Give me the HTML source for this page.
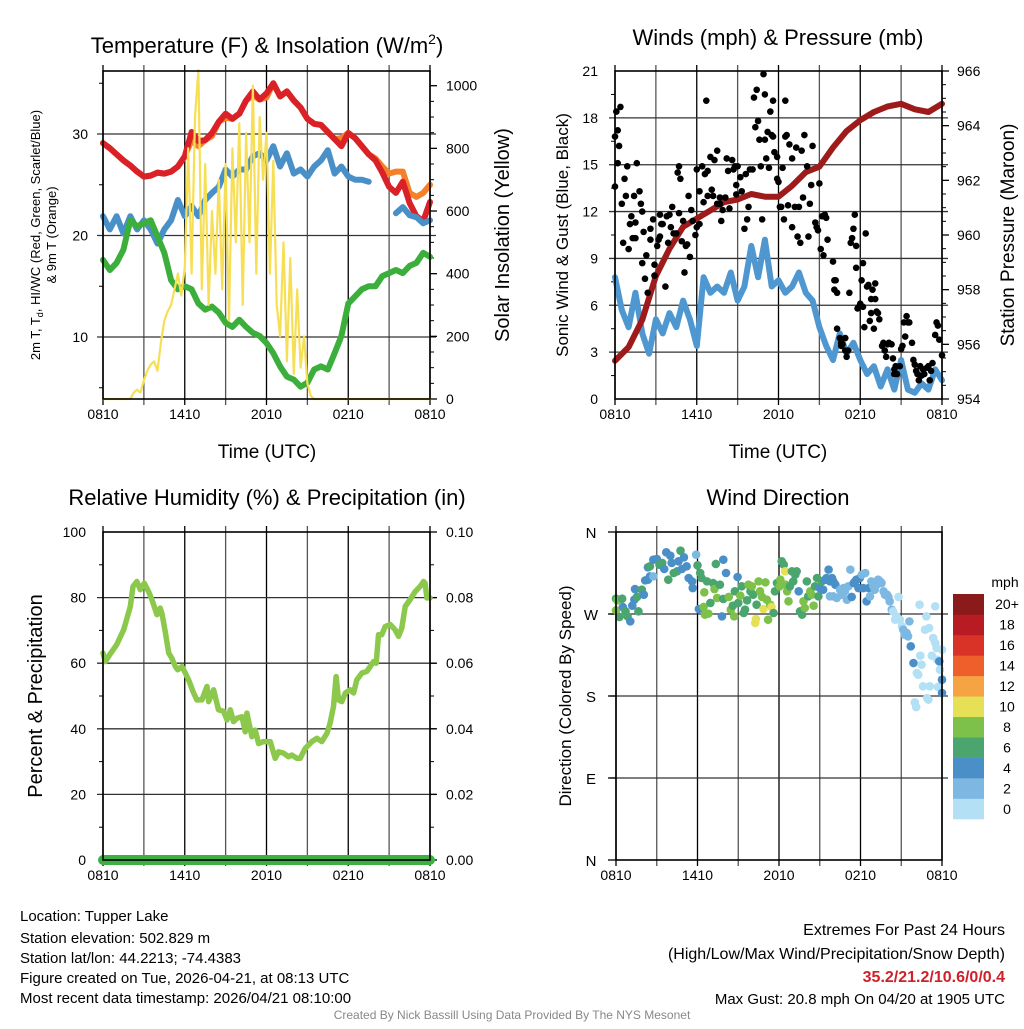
<!DOCTYPE html>
<html><head><meta charset="utf-8">
<style>
html,body{margin:0;padding:0;background:#fff;}
svg text{font-family:"Liberation Sans",Arial,sans-serif;fill:#000;}
</style></head>
<body>
<svg id="chart" width="1024" height="1024" viewBox="0 0 1024 1024" xmlns="http://www.w3.org/2000/svg">
<rect width="1024" height="1024" fill="#fff"/>
<g id="g1"></g>
<g id="g2"></g>
<g id="g3"></g>
<g id="g4"></g>

<text x="267" y="53" font-size="22" text-anchor="middle">Temperature (F) &amp; Insolation (W/m<tspan font-size="14" dy="-9">2</tspan><tspan dy="9">)</tspan></text>
<text x="778" y="45" font-size="22" text-anchor="middle">Winds (mph) &amp; Pressure (mb)</text>
<text x="267" y="505" font-size="22" text-anchor="middle">Relative Humidity (%) &amp; Precipitation (in)</text>
<text x="778" y="505" font-size="22" text-anchor="middle">Wind Direction</text>

<text x="267" y="458" font-size="19" text-anchor="middle">Time (UTC)</text>
<text x="778" y="458" font-size="19" text-anchor="middle">Time (UTC)</text>

<text transform="translate(40,235) rotate(-90)" font-size="13" text-anchor="middle">2m T, T<tspan font-size="9" dy="3">d</tspan><tspan dy="-3">, HI/WC (Red, Green, Scarlet/Blue)</tspan></text>
<text transform="translate(56,235) rotate(-90)" font-size="13" text-anchor="middle">&amp; 9m T (Orange)</text>
<text transform="translate(509,235) rotate(-90)" font-size="20" text-anchor="middle">Solar Insolation (Yellow)</text>
<text transform="translate(568,235) rotate(-90)" font-size="17" text-anchor="middle">Sonic Wind &amp; Gust (Blue, Black)</text>
<text transform="translate(1014,235) rotate(-90)" font-size="19" text-anchor="middle">Station Pressure (Maroon)</text>
<text transform="translate(42,696) rotate(-90)" font-size="20" text-anchor="middle">Percent &amp; Precipitation</text>
<text transform="translate(571,696) rotate(-90)" font-size="17" text-anchor="middle">Direction (Colored By Speed)</text>

<g font-size="15">
<text x="20" y="921" font-size="15">Location: Tupper Lake</text>
<text x="20" y="943" font-size="15">Station elevation: 502.829 m</text>
<text x="20" y="963" font-size="15">Station lat/lon: 44.2213; -74.4383</text>
<text x="20" y="983" font-size="15">Figure created on Tue, 2026-04-21, at 08:13 UTC</text>
<text x="20" y="1003" font-size="15">Most recent data timestamp: 2026/04/21 08:10:00</text>
</g>
<g>
<text x="1005" y="935" font-size="16" text-anchor="end">Extremes For Past 24 Hours</text>
<text x="1005" y="959" font-size="16" text-anchor="end">(High/Low/Max Wind/Precipitation/Snow Depth)</text>
<text x="1005" y="982" font-size="16" text-anchor="end" font-weight="bold" style="fill:#d0202a">35.2/21.2/10.6/0/0.4</text>
<text x="1005" y="1004" font-size="15" text-anchor="end">Max Gust: 20.8 mph On 04/20 at 1905 UTC</text>
</g>
<text x="512" y="1019" font-size="12" text-anchor="middle" style="fill:#888">Created By Nick Bassill Using Data Provided By The NYS Mesonet</text>
</svg>
<script>
// ---------- data ----------
const xLabels=["0810","1410","2010","0210","0810"];
const tempRed=[29.1,28.6,28.0,27.4,26.9,26.3,25.8,25.9,26.2,26.1,26.3,26.8,27.8,30.2,29.3,29.4,30.1,31.2,32.0,31.5,32.0,33.3,34.2,33.4,34.0,35.0,33.7,34.2,33.3,32.6,31.5,31.0,30.9,30.2,29.5,28.8,30.1,29.6,28.8,28.0,27.4,26.2,24.8,24.2,25.3,23.2,21.9,21.4,23.3];
const tempOrange=[29.1,28.6,28.0,27.4,26.9,26.3,25.8,25.9,26.2,26.1,26.3,26.8,27.8,29.4,28.8,29.4,29.8,31.2,31.6,31.5,32.0,33.3,33.8,33.4,33.6,35.0,33.7,34.2,33.3,32.6,31.5,31.0,30.9,30.2,29.5,29.6,30.1,29.6,28.8,28.0,27.6,26.8,26.1,26.3,26.3,24.2,23.8,24.2,25.0];
const tempBlue=[21.9,20.6,21.9,20.2,21.9,20.6,21.5,20.6,19.2,20.6,21.5,23.5,21.9,22.9,21.9,23.5,24.2,24.8,26.5,25.8,26.5,26.5,27.8,28.1,27.4,28.8,26.8,28.1,26.1,26.5,25.8,26.8,27.4,28.4,26.1,26.8,25.8,25.5,25.5,25.3,null,null,null,22.2,22.8,22.0,21.8,21.2,21.5];
const tempGreen=[17.6,16.6,17.3,18.6,21.5,20.9,21.2,21.5,19.9,18.3,15.6,14.7,15.0,14.7,13.3,12.7,13.0,12.4,11.4,11.0,11.7,11.0,10.4,10.1,9.4,8.4,7.1,6.1,5.8,5.1,5.5,6.8,7.1,6.8,8.4,10.1,13.3,14.0,14.7,15.0,15.0,16.0,16.3,16.6,16.3,17.0,17.3,18.3,17.9];
const insolation=[0,0,0,0,0,0,0,0,0,20,30,20,60,90,110,120,90,180,250,280,300,350,400,330,420,800,400,900,1050,350,750,300,600,400,700,350,750,250,800,500,880,300,850,500,1000,400,900,700,850,400,760,300,200,500,120,450,80,350,100,200,50,10,0,0,0,0,0,0,0,0,0,0,0,0,0,0,0,0,0,0,0,0,0,0,0,0,0,0,0,0,0,0,0,0,0,0,0];
const pressure=[955.4,955.9,956.9,958.5,959.5,960.3,960.6,960.9,961.2,961.3,961.5,961.4,961.4,961.8,962.3,962.5,963.2,963.8,964.2,964.5,964.7,964.8,964.6,964.5,964.8];
const windSpeed=[7.8,5.7,4.6,6.8,4.2,2.9,5.1,4.2,5.5,4.6,6.3,5.1,3.4,7.8,6.8,7.2,6.8,8.1,6.3,7.2,9.8,7.8,10.2,7.2,7.6,6.8,7.2,8.1,6.8,6.3,4.6,3.4,2.5,4.2,2.9,3.6,2.5,1.6,2.1,0.8,1.9,0.6,2.5,0.6,0.4,1.0,0.6,1.9,1.2];
const gustTime=[0.0,0.0,0.1,0.2,0.3,0.4,0.2,0.5,0.6,0.7,0.8,0.9,1.0,1.1,1.2,1.3,1.4,1.5,1.5,1.6,1.8,1.9,2.0,2.0,2.1,2.2,2.3,2.4,2.6,2.6,2.8,2.9,2.9,3.1,3.2,3.3,3.3,3.4,3.5,3.7,3.8,3.9,4.0,4.1,4.2,4.3,4.5,4.6,4.7,4.7,4.8,4.9,5.0,5.1,5.2,5.3,5.4,5.5,5.6,5.7,5.9,6.0,6.0,6.2,6.2,6.4,6.5,6.6,6.7,6.8,6.8,7.0,7.1,7.2,7.3,7.5,7.5,7.7,7.7,7.8,7.9,8.1,8.2,8.3,8.4,8.6,8.7,8.8,8.9,8.9,9.0,9.2,9.3,9.5,9.6,9.7,9.8,9.9,10.1,10.2,10.3,10.4,10.5,10.6,10.7,10.8,10.9,11.0,11.0,11.1,11.2,11.3,11.4,11.5,11.6,11.6,11.7,11.9,11.9,12.0,12.1,12.2,12.3,12.4,12.5,12.5,12.6,12.7,12.8,13.0,13.0,13.2,13.3,13.4,13.5,13.6,13.7,13.8,13.9,14.1,14.2,14.3,14.4,14.5,14.7,14.8,14.9,15.0,15.1,15.2,15.3,15.4,15.5,15.6,16.0,16.1,16.1,16.2,16.3,16.3,16.5,16.6,16.6,16.7,16.9,16.9,17.0,17.1,17.2,17.3,17.4,17.5,17.6,17.7,17.7,17.8,17.9,18.0,18.1,18.2,18.2,18.3,18.4,18.5,18.6,18.7,18.8,18.8,18.9,19.0,19.1,19.1,19.2,19.3,19.4,19.6,19.7,19.8,19.9,20.0,20.1,20.3,20.4,20.5,20.5,20.6,20.7,20.9,21.0,21.1,21.2,21.3,21.4,21.5,21.6,21.8,21.9,22.0,22.1,22.2,22.3,22.4,22.5,22.6,22.7,22.9,23.0,23.1,23.2,23.3,23.5,23.6,23.7,23.8,24.0];
const gustSpeed=[13.6,16.8,18.4,17.2,16.2,18.7,15.1,12.5,10.0,14.1,13.0,14.9,9.6,11.2,11.7,10.3,13.0,10.3,11.3,15.1,13.3,12.5,12.0,8.7,10.7,7.7,9.2,6.8,10.9,10.2,11.5,8.6,7.9,9.8,10.2,10.4,11.8,11.2,11.2,7.2,11.7,10.0,11.8,11.0,12.3,10.6,10.6,14.5,11.9,14.9,14.1,10.1,11.4,8.1,9.8,9.9,13.0,9.1,12.1,11.4,10.5,11.0,14.7,11.2,13.3,14.9,12.6,14.4,19.1,13.0,14.6,15.5,13.4,13.0,15.3,12.5,15.9,12.9,12.5,11.4,12.1,12.9,15.4,14.6,12.2,15.3,14.7,14.9,13.7,13.1,14.9,14.2,13.3,10.9,14.4,11.5,12.3,14.7,14.7,19.3,17.4,19.8,17.8,16.6,14.9,11.5,20.8,19.5,16.6,15.4,17.1,14.8,18.4,16.9,19.1,16.8,15.8,15.5,14.1,13.9,12.3,12.3,14.8,11.5,19.1,16.8,16.9,12.4,16.3,15.4,11.0,12.3,16.1,10.4,12.3,10.0,15.9,12.9,16.9,14.9,10.4,12.5,13.7,16.2,11.3,11.0,10.8,13.8,9.6,11.7,9.2,11.8,11.6,10.2,8.8,7.6,7.0,7.6,4.5,6.8,3.9,3.6,3.4,3.5,3.1,3.9,2.7,3.1,6.8,10.0,10.3,10.9,11.8,9.8,8.4,5.8,5.9,6.1,7.6,8.7,5.9,4.6,10.6,7.2,7.3,5.0,5.5,6.4,7.0,4.5,6.4,7.4,5.6,5.5,5.1,3.4,3.6,3.1,2.7,3.5,3.6,3.5,2.6,1.6,1.9,2.1,1.6,2.1,3.2,3.4,4.9,4.0,5.3,4.9,4.9,3.6,2.5,2.2,1.8,1.6,1.2,2.1,1.5,1.9,1.6,2.0,2.1,1.2,1.8,2.3,4.1,4.9,4.7,3.8,2.8];
const rhTime=[0,0.17,0.49,1.0,1.52,2.0,2.2,2.49,2.74,3.03,3.35,3.59,3.96,4.2,4.33,4.57,4.82,5.06,5.31,5.48,5.79,6.04,6.28,6.65,6.89,7.26,7.63,7.75,8.12,8.48,8.85,9.1,9.34,9.58,9.83,10.2,10.44,10.56,10.93,11.17,11.42,11.78,12.27,12.64,12.89,13.25,13.62,13.86,14.23,14.47,14.84,15.33,15.7,16.06,16.43,16.67,16.92,17.11,17.29,17.53,17.78,18.14,18.39,18.63,19.0,19.36,19.61,19.85,20.05,20.22,20.46,20.71,21.08,21.44,21.69,21.93,22.18,22.54,22.91,23.28,23.52,23.64,23.77,24.0];
const rhValue=[63.1,60.5,62.6,65.6,70.2,77.3,83.4,84.9,82.4,84.4,81.8,79.4,74.8,76.8,75.1,69.5,63.1,61.5,59.0,58.0,59.0,57.0,54.9,50.9,48.8,48.8,52.9,48.3,51.9,45.8,45.3,42.7,45.8,42.2,43.2,43.7,39.1,44.8,37.6,39.6,35.5,36.1,36.1,31.0,33.0,32.6,31.5,32.0,31.0,31.0,34.0,36.1,37.1,36.1,38.6,41.7,46.8,55.9,48.8,48.3,50.9,51.9,50.9,54.9,57.0,57.5,59.0,60.5,60.0,68.7,68.7,71.2,71.8,70.2,68.2,70.7,77.3,79.4,81.8,83.4,84.9,84.4,79.9,79.9];
const precipTime=[0,24];
const precipValue=[0,0];
const dirTime=[0.0,0.1,0.0,0.25,0.45,0.5,0.7,0.85,1.05,1.2,1.35,1.55,1.65,1.4,1.9,2.05,2.15,2.35,2.5,2.35,2.5,2.75,2.75,3.0,3.2,3.4,3.55,3.7,4.0,4.1,3.85,4.25,4.5,4.6,4.75,4.85,5.0,5.2,5.35,5.6,5.65,5.9,6.0,6.1,6.2,6.3,6.45,6.55,6.5,6.7,6.8,6.95,7.15,7.25,7.35,7.45,7.65,7.8,7.9,7.9,8.1,8.3,8.45,8.6,8.7,8.75,8.95,9.0,9.15,9.25,9.4,9.5,9.65,9.75,9.9,10.0,10.1,10.25,10.3,10.35,10.5,10.6,10.75,10.85,11.0,11.1,11.2,11.35,11.45,11.6,11.7,11.85,12.05,12.1,12.2,12.35,12.45,12.5,12.6,12.7,12.8,12.95,13.05,13.2,13.3,13.45,13.55,13.7,13.8,13.9,14.05,14.15,14.3,14.4,14.55,14.65,14.8,14.9,15.0,15.15,15.25,15.4,15.5,15.65,15.75,15.9,16.0,16.15,15.75,16.0,16.25,16.5,16.6,16.75,16.85,17.0,17.1,17.25,17.35,17.5,17.6,17.7,17.85,17.95,18.1,18.2,18.35,18.45,18.6,18.7,18.8,18.95,19.05,19.2,19.3,19.45,19.55,19.7,19.8,19.95,20.05,20.15,20.3,20.4,20.55,20.65,20.8,20.9,21.05,21.15,21.25,21.4,21.5,21.6,21.7,21.9,22.0,22.1,22.15,22.25,22.35,22.4,22.5,22.6,22.75,22.85,22.9,23.0,23.05,23.1,23.25,23.35,23.5,23.5,23.6,23.65,23.7,23.8,23.85,24.0,24.0,24.0];
const dirValue=[286.8,285.0,274.0,266.7,286.8,277.7,272.9,267.4,261.9,279.1,285.7,288.7,272.9,297.4,296.7,291.2,306.9,307.7,311.3,321.2,322.3,329.6,311.3,330.4,324.1,326.0,319.4,337.7,334.0,326.0,307.7,315.0,316.8,327.8,339.5,319.4,332.2,322.3,309.5,305.8,298.5,335.1,323.4,275.5,315.0,309.5,277.7,269.3,293.8,305.8,270.4,282.1,304.0,297.4,324.9,287.6,302.2,267.4,329.6,286.5,315.0,288.7,274.7,279.1,267.4,294.9,310.6,282.1,290.1,300.4,271.1,274.7,285.0,302.2,294.9,300.4,291.2,260.1,264.5,280.2,305.8,294.9,288.7,275.5,304.7,285.7,263.8,280.2,277.7,271.1,294.9,304.0,300.4,307.7,327.8,324.1,316.8,302.2,294.9,283.9,300.4,316.8,305.8,313.2,316.8,294.9,272.9,269.3,283.9,276.6,305.8,289.4,294.9,291.2,279.1,300.4,309.5,289.4,298.5,305.8,296.7,307.7,309.5,318.7,305.8,309.5,305.8,302.2,289.4,289.4,287.6,296.7,291.2,298.5,294.9,285.7,300.4,318.7,288.7,304.0,305.8,307.7,298.5,309.5,313.2,298.5,315.0,283.9,298.5,289.4,305.8,300.4,296.7,302.2,307.7,305.8,304.0,294.9,291.2,291.2,288.7,283.9,274.7,272.9,263.8,267.4,288.7,263.8,256.5,252.8,247.3,249.1,245.5,261.9,234.5,216.2,173.0,167.9,205.2,203.4,280.2,224.3,214.4,190.6,252.8,267.4,177.8,176.0,254.6,190.6,224.3,243.6,278.4,238.2,232.7,219.9,189.9,218.0,208.9,197.9,183.3,230.8];
const dirSpeed=[6.5,8.5,8.5,6.5,6.5,4.5,6.5,6.5,4.5,4.5,4.5,6.5,6.5,4.5,6.5,4.5,4.5,4.5,4.5,4.5,6.5,4.5,2.5,4.5,6.5,6.5,4.5,4.5,4.5,4.5,6.5,6.5,6.5,4.5,6.5,4.5,4.5,4.5,4.5,4.5,4.5,2.5,6.5,4.5,6.5,6.5,8.5,8.5,8.5,6.5,8.5,6.5,6.5,8.5,6.5,8.5,6.5,4.5,4.5,6.5,4.5,8.5,8.5,6.5,8.5,6.5,4.5,6.5,8.5,6.5,6.5,6.5,6.5,8.5,6.5,8.5,6.5,10.5,10.5,6.5,8.5,8.5,8.5,10.5,8.5,8.5,8.5,8.5,10.5,6.5,6.5,6.5,8.5,8.5,6.5,6.5,10.5,8.5,8.5,8.5,6.5,6.5,6.5,6.5,6.5,4.5,6.5,6.5,8.5,8.5,6.5,6.5,8.5,8.5,8.5,6.5,6.5,6.5,4.5,6.5,4.5,4.5,4.5,4.5,4.5,4.5,4.5,4.5,2.5,2.5,2.5,2.5,2.5,2.5,2.5,2.5,2.5,2.5,4.5,4.5,4.5,4.5,4.5,4.5,2.5,4.5,2.5,4.5,4.5,2.5,2.5,2.5,2.5,2.5,2.5,2.5,2.5,2.5,2.5,2.5,2.5,2.5,2.5,0.5,0.5,0.5,0.5,0.5,0.5,2.5,2.5,2.5,2.5,2.5,4.5,4.5,0.5,0.5,0.5,0.5,0.5,0.5,0.5,0.5,0.5,0.5,0.5,0.5,0.5,0.5,0.5,0.5,0.5,0.5,0.5,0.5,0.5,4.5,0.5,4.5,4.5,0.5,0.5,0.5];
const speedColors=["#b3e0f5","#7db8e3","#4a8fc8","#4aa56e","#7dc14a","#e6e057","#f5a343","#ef5f2b","#d93328","#b81c22","#8b1a1a"];
const speedLabels=["0","2","4","6","8","10","12","14","16","18","20+"];

// ---------- helpers ----------
const NS="http://www.w3.org/2000/svg";
function mk(parent,tag,attrs){const e=document.createElementNS(NS,tag);for(const k in attrs)e.setAttribute(k,attrs[k]);parent.appendChild(e);return e;}
function txt(parent,x,y,s,size,anchor){const e=mk(parent,"text",{x:x,y:y,"font-size":size,"text-anchor":anchor});e.textContent=s;return e;}

function panel(g,P){
  for(let h=0;h<=24;h+=3){const x=P.x0+h/24*(P.x1-P.x0);
    const l=mk(g,"line",{x1:x,x2:x,y1:P.y0-6,y2:P.y1+6,stroke:(h%6==0)?"#000":"#555","stroke-width":1.3});
    
    
  }
  for(let i=0;i<xLabels.length;i++){const x=P.x0+i*6/24*(P.x1-P.x0);
    const t=txt(g,x,P.y1+20,xLabels[i],14,"middle");
    
    
  }
}
function frame(g,P){
  const r=mk(g,"rect",{x:P.x0,y:P.y0,width:P.x1-P.x0,height:P.y1-P.y0,fill:"none",stroke:"#000","stroke-width":1.6});
  
  
}
function hgrid(g,P,y){const l=mk(g,"line",{x1:P.x0-6,x2:P.x1+6,y1:y,y2:y,stroke:"#333","stroke-width":1.3});
  
  }
function minor(g,x,y,dir){mk(g,"line",{x1:x,x2:x+dir*4,y1:y,y2:y,stroke:"#000","stroke-width":1});}
function pathFrom(xs,ys){let d="",pen=false;for(let i=0;i<xs.length;i++){if(ys[i]==null||isNaN(ys[i])){pen=false;continue;}d+=(pen?"L":"M")+xs[i].toFixed(1)+","+ys[i].toFixed(1);pen=true;}return d;}
function series(g,vals,dt,xf,yf,color,w,name){
  const xs=vals.map((v,i)=>xf(i*dt)),ys=vals.map(v=>v==null?null:yf(v));
  const p=mk(g,"path",{d:pathFrom(xs,ys),fill:"none",stroke:color,"stroke-width":w,"stroke-linejoin":"round","stroke-linecap":"round"});
  
  
}

// ---------- panel 1 ----------
const P1={x0:103,x1:430,y0:71,y1:399};
const x1f=t=>P1.x0+t/24*(P1.x1-P1.x0);
const yT=v=>337-(v-10)*10.15;
const yS=w=>399-w*0.3133;
const g1=document.getElementById("g1");
panel(g1,P1);
[10,20,30].forEach(v=>{hgrid(g1,P1,yT(v));const t=txt(g1,88,yT(v)+5,String(v),14,"end");
  
  });
for(let v=5;v<=35;v+=5){if(v%10)minor(g1,P1.x0,yT(v),-1);}
for(let w=0;w<=1000;w+=200){mk(g1,"line",{x1:P1.x1,x2:P1.x1+7,y1:yS(w),y2:yS(w),stroke:"#000","stroke-width":1.3});
  const t=txt(g1,446,yS(w)+5,String(w),14,"start");
  
  }
for(let w=50;w<1050;w+=50){if(w%200)minor(g1,P1.x1,yS(w),1);}
series(g1,tempOrange,0.5,x1f,yT,"#f5802a",6,"line-9m-temp");
series(g1,tempRed,0.5,x1f,yT,"#d92127",6,"line-2m-temp");
series(g1,tempBlue,0.5,x1f,yT,"#4a90c8",6,"line-wind-chill");
series(g1,tempGreen,0.5,x1f,yT,"#3cae3c",6,"line-dewpoint");
series(g1,insolation,0.25,x1f,yS,"#f7df55",2.2,"line-insolation");
frame(g1,P1);

// ---------- panel 2 ----------
const P2={x0:615,x1:942,y0:71,y1:399};
const x2f=t=>P2.x0+t/24*(P2.x1-P2.x0);
const yW=v=>399-v*(328/21);
const yP=p=>399-(p-954)*(328/12);
const g2=document.getElementById("g2");
panel(g2,P2);
for(let v=0;v<=21;v+=3){if(v>0&&v<21)hgrid(g2,P2,yW(v));
  const t=txt(g2,598,yW(v)+5,String(v),14,"end");
  
  }
for(let v=1.5;v<21;v+=3)minor(g2,P2.x0,yW(v),-1);
for(let p=954;p<=966;p+=2){mk(g2,"line",{x1:P2.x1,x2:P2.x1+7,y1:yP(p),y2:yP(p),stroke:"#000","stroke-width":1.3});
  const t=txt(g2,957,yP(p)+5,String(p),14,"start");
  
  }
for(let p=954.5;p<966;p+=0.5){if((p*2)%4)minor(g2,P2.x1,yP(p),1);}
series(g2,windSpeed,0.5,x2f,yW,"#4f97d0",6,"line-wind-speed");
series(g2,pressure,1,x2f,yP,"#9e1b1b",6,"line-pressure");
for(let i=0;i<gustTime.length;i++){
  const c=mk(g2,"circle",{cx:x2f(gustTime[i]),cy:yW(gustSpeed[i]),r:3.3,fill:"#000"});
  
  
}
frame(g2,P2);

// ---------- panel 3 ----------
const P3={x0:103,x1:430,y0:532,y1:860};
const x3f=t=>P3.x0+t/24*(P3.x1-P3.x0);
const yR=v=>860-v*3.28;
const yPr=v=>860-v*3280;
const g3=document.getElementById("g3");
panel(g3,P3);
for(let v=0;v<=100;v+=20){if(v>0&&v<100)hgrid(g3,P3,yR(v));
  const t=txt(g3,86,yR(v)+5,String(v),14,"end");
  
  }
for(let v=10;v<100;v+=20)minor(g3,P3.x0,yR(v),-1);
for(let i=0;i<=5;i++){const v=i*0.02;mk(g3,"line",{x1:P3.x1,x2:P3.x1+7,y1:yPr(v),y2:yPr(v),stroke:"#000","stroke-width":1.3});
  const t=txt(g3,446,yPr(v)+5,v.toFixed(2),14,"start");
  
  }
for(let v=0.01;v<0.1;v+=0.02)minor(g3,P3.x1,yPr(v),1);
(function(){const p=mk(g3,"path",{d:pathFrom(rhTime.map(x3f),rhValue.map(yR)),fill:"none",stroke:"#8cc84b","stroke-width":5.5,"stroke-linejoin":"round","stroke-linecap":"round"});
  
  
  const q=mk(g3,"path",{d:pathFrom(precipTime.map(x3f),precipValue.map(yPr)),fill:"none",stroke:"#3cb043","stroke-width":10,"stroke-linecap":"round"});
  
  })();
frame(g3,P3);

// ---------- panel 4 ----------
const P4={x0:616,x1:942,y0:532,y1:860};
const x4f=t=>P4.x0+t/24*(P4.x1-P4.x0);
const yD=d=>860-d/360*328;
const g4=document.getElementById("g4");
panel(g4,P4);
const dirLabels=["N","E","S","W","N"];
for(let i=0;i<5;i++){const d=i*90;if(i>0&&i<4)hgrid(g4,P4,yD(d));
  mk(g4,"line",{x1:P4.x0-8,x2:P4.x0,y1:yD(d),y2:yD(d),stroke:"#000","stroke-width":1.3});
  const t=txt(g4,591,yD(d)+6,dirLabels[i],15,"middle");
  
  }
for(let i=0;i<dirTime.length;i++){
  const k=Math.min(10,Math.floor(dirSpeed[i]/2));
  const c=mk(g4,"circle",{cx:x4f(dirTime[i]),cy:yD(dirValue[i]),r:4.3,fill:speedColors[k]});
  
  
}
frame(g4,P4);
const cb=mk(g4,"g",{});


const boxH=225/11;
for(let i=0;i<11;i++){const y=594+(10-i)*boxH;
  const r=mk(cb,"rect",{x:953,y:y,width:31,height:boxH+0.3,fill:speedColors[i]});
  
  
  const t=txt(cb,1007,y+boxH/2+5,speedLabels[i],14,"middle");
  
  }
const u=txt(cb,1005,587,"mph",14,"middle");


</script>
</body></html>
